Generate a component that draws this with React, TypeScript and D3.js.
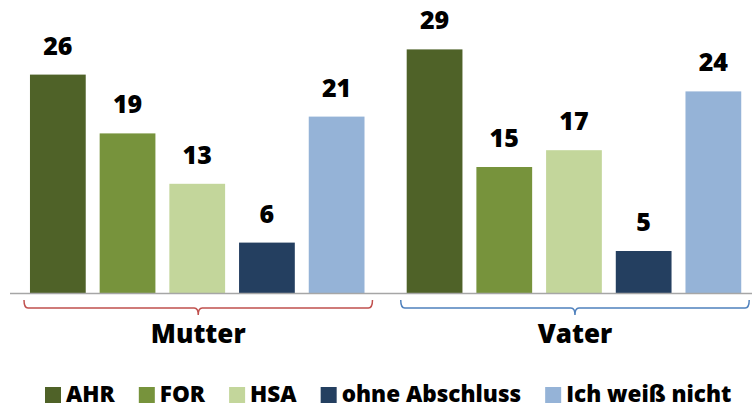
import React, { useEffect, useRef } from "react";
import * as d3 from "d3";

const groups = ["Mutter", "Vater"];
const series = ["AHR", "FOR", "HSA", "ohne Abschluss", "Ich weiß nicht"];
const mutterValues = [26, 19, 13, 6, 21];
const vaterValues = [29, 15, 17, 5, 24];
const seriesColors = ["#4F6228", "#77933C", "#C3D69B", "#243F60", "#95B3D7"];
const bracketColors = ["#C0504D", "#4F81BD"];

const W = 752;
const H = 408;
const FONT = "'Open Sans', 'DejaVu Sans', sans-serif";

export default function App() {
  const ref = useRef<SVGSVGElement>(null);

  useEffect(() => {
    const svg = d3.select(ref.current);
    svg.selectAll("*").remove();

    const values = [mutterValues, vaterValues];
    const baseY = 293;
    const y = d3.scaleLinear().domain([0, 29]).range([baseY, baseY - 29 * 8.4]);

    const x0 = d3.scaleBand<string>().domain(groups).range([23, 748.2]).paddingInner(0.075).paddingOuter(0);
    const x1 = d3
      .scaleBand<string>()
      .domain(series)
      .range([0, x0.bandwidth()])
      .paddingInner(0.2)
      .paddingOuter(0.1);
    const color = d3.scaleOrdinal<string, string>().domain(series).range(seriesColors);

    // bars
    groups.forEach((g, gi) => {
      const gEl = svg.append("g").attr("transform", `translate(${x0(g)},0)`);
      series.forEach((s, si) => {
        const v = values[gi][si];
        gEl
          .append("rect")
          .attr("x", x1(s)!)
          .attr("y", y(v))
          .attr("width", x1.bandwidth())
          .attr("height", baseY - y(v))
          .attr("fill", color(s));
        gEl
          .append("text")
          .attr("x", x1(s)! + x1.bandwidth() / 2)
          .attr("y", y(v) - 20)
          .attr("text-anchor", "middle")
          .attr("font-family", FONT)
          .attr("font-weight", 800)
          .attr("font-size", 25)
          .attr("fill", "#000")
          .text(String(v));
      });
    });

    // axis line
    svg
      .append("line")
      .attr("x1", 10)
      .attr("x2", W)
      .attr("y1", baseY + 0.5)
      .attr("y2", baseY + 0.5)
      .attr("stroke", "#A6A6A6")
      .attr("stroke-width", 1.5);

    // brackets + group labels
    groups.forEach((g, gi) => {
      const a = x0(g)! + 1;
      const b = x0(g)! + x0.bandwidth() + 1;
      const c = (a + b) / 2;
      const yt = 300;
      const yh = 308;
      const yb = 315;
      const r = 4;
      const p = d3.path();
      p.moveTo(a, yt);
      p.quadraticCurveTo(a, yh, a + r, yh);
      p.lineTo(c - r, yh);
      p.quadraticCurveTo(c, yh, c, yb);
      p.quadraticCurveTo(c, yh, c + r, yh);
      p.lineTo(b - r, yh);
      p.quadraticCurveTo(b, yh, b, yt);
      svg
        .append("path")
        .attr("d", p.toString())
        .attr("fill", "none")
        .attr("stroke", bracketColors[gi])
        .attr("stroke-width", 1.5);
      svg
        .append("text")
        .attr("x", c)
        .attr("y", 343)
        .attr("text-anchor", "middle")
        .attr("font-family", FONT)
        .attr("font-weight", 800)
        .attr("font-size", 26)
        .attr("fill", "#000")
        .text(g);
    });

    // legend
    const legend = svg.append("g");
    let lx = 45;
    const sq = 16;
    const ly = 402;
    series.forEach((s) => {
      legend
        .append("rect")
        .attr("x", lx)
        .attr("y", ly - sq + 1)
        .attr("width", sq)
        .attr("height", sq)
        .attr("fill", color(s));
      const t = legend
        .append("text")
        .attr("x", lx + sq + 5)
        .attr("y", ly)
        .attr("font-family", FONT)
        .attr("font-weight", 800)
        .attr("font-size", 22.5)
        .attr("fill", "#000")
        .text(s);
      const w = (t.node() as SVGTextElement).getComputedTextLength();
      lx = lx + sq + 5 + w + 24;
    });
  }, []);

  return (
    <svg
      ref={ref}
      width={W}
      height={H}
      style={{ position: "absolute", left: 0, top: 0, background: "#fff" }}
    />
  );
}
